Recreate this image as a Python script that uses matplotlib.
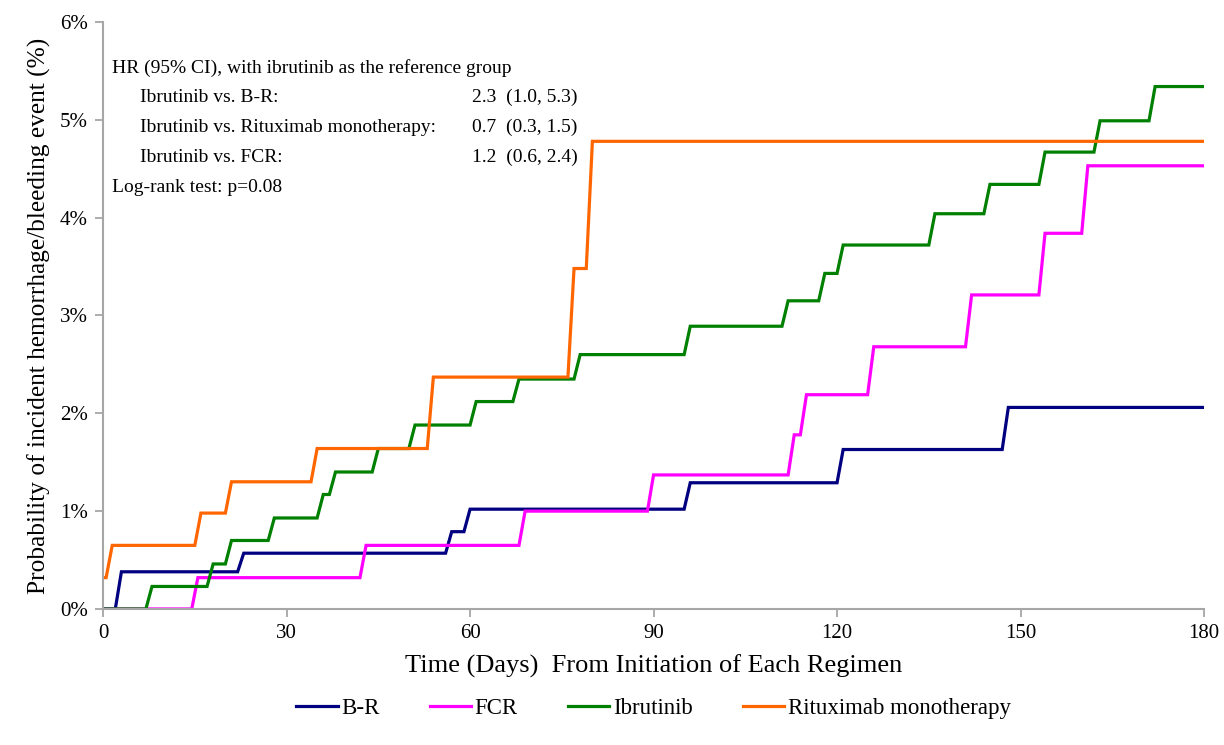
import numpy as np
import matplotlib
matplotlib.use('Agg')
import matplotlib.pyplot as plt
from matplotlib.ticker import FuncFormatter

plt.rcParams['font.family'] = ['Liberation Serif', 'DejaVu Serif']

# step times (days) and cumulative probability (%) after each step
br_t = [0, 2.5, 22.5, 56.5, 59.5, 95.5, 120.5, 147.5]
br_p = [0, 0.38, 0.57, 0.79, 1.02, 1.29, 1.63, 2.06]

fcr_t = [0, 15, 42.5, 68.5, 89.5, 112.5, 114.5, 125.5, 141.5, 153.5, 160.5]
fcr_p = [0, 0.32, 0.65, 1.00, 1.37, 1.78, 2.19, 2.68, 3.21, 3.84, 4.53]

ibr_t = [0, 7.5, 17.5, 20.5, 27.5, 35.5, 37.5, 44.5, 50.5, 60.5, 67.5,
         77.5, 95.5, 111.5, 117.5, 120.5, 135.5, 144.5, 153.5, 162.5, 171.5]
ibr_p = [0, 0.23, 0.46, 0.70, 0.93, 1.17, 1.40, 1.64, 1.88, 2.12, 2.35,
         2.60, 2.89, 3.15, 3.43, 3.72, 4.04, 4.34, 4.67, 4.99, 5.34]

rit_t = [0, 1, 15.5, 20.5, 34.5, 53.5, 76.5, 79.5]
rit_p = [0.32, 0.65, 0.98, 1.30, 1.64, 2.37, 3.48, 4.78]

series = [('B-R', br_t, br_p, '#000080'),
          ('FCR', fcr_t, fcr_p, '#ff00ff'),
          ('Ibrutinib', ibr_t, ibr_p, '#008000'),
          ('Rituximab monotherapy', rit_t, rit_p, '#ff6600')]

END_DAY = 180
RAMP = 1.0  # steps are drawn slightly slanted, like the original


def step_xy(t, p):
    xs, ys = [t[0]], [p[0]]
    for i in range(1, len(t)):
        xs += [t[i] - RAMP / 2, t[i] + RAMP / 2]
        ys += [p[i - 1], p[i]]
    xs.append(END_DAY)
    ys.append(p[-1])
    return xs, ys


fig = plt.figure(figsize=(12.24, 7.45), dpi=100)
ax = fig.add_axes([0.0842, 0.1826, 0.8995, 0.7879])

for name, t, p, c in series:
    xs, ys = step_xy(t, p)
    ax.plot(xs, ys, color=c, lw=2.3, label=name, solid_joinstyle='miter')

ax.set_xlim(0, 180)
ax.set_ylim(0, 6)
ax.set_xticks(np.arange(0, 181, 30))
ax.set_yticks(np.arange(0, 7, 1))
ax.yaxis.set_major_formatter(FuncFormatter(lambda v, _: '%d%%' % v))
for s in ['top', 'right']:
    ax.spines[s].set_visible(False)
for s in ['left', 'bottom']:
    ax.spines[s].set_color('#a6a6a6')
    ax.spines[s].set_linewidth(1.5)
ax.tick_params(axis='both', colors='#a6a6a6', length=6, width=1.3,
               labelcolor='black', labelsize=15, direction='out')
ax.tick_params(axis='x', pad=5)
ax.tick_params(axis='y', pad=5)

ax.set_xlabel('Time (Days)  From Initiation of Each Regimen', fontsize=19, labelpad=8)
ax.set_ylabel('Probability of incident hemorrhage/bleeding event (%)', fontsize=18.3, labelpad=6)

fs = 14
ax.text(1.5, 5.53, 'HR (95% CI), with ibrutinib as the reference group', fontsize=fs, va='center')
rows = [('Ibrutinib vs. B-R:', '2.3  (1.0, 5.3)'),
        ('Ibrutinib vs. Rituximab monotherapy:', '0.7  (0.3, 1.5)'),
        ('Ibrutinib vs. FCR:', '1.2  (0.6, 2.4)')]
for i, (a, b) in enumerate(rows):
    y = 5.53 - 0.305 * (i + 1)
    ax.text(6, y, a, fontsize=fs, va='center')
    ax.text(60.3, y, b, fontsize=fs, va='center')
ax.text(1.5, 5.53 - 0.305 * 4, 'Log-rank test: p=0.08', fontsize=fs, va='center')

ax.legend(loc='center', bbox_to_anchor=(0.5, -0.17), ncol=4, frameon=False,
          fontsize=16.5, handlelength=1.8, handletextpad=0.15, columnspacing=2.2)

fig.savefig('out.png', dpi=100)
